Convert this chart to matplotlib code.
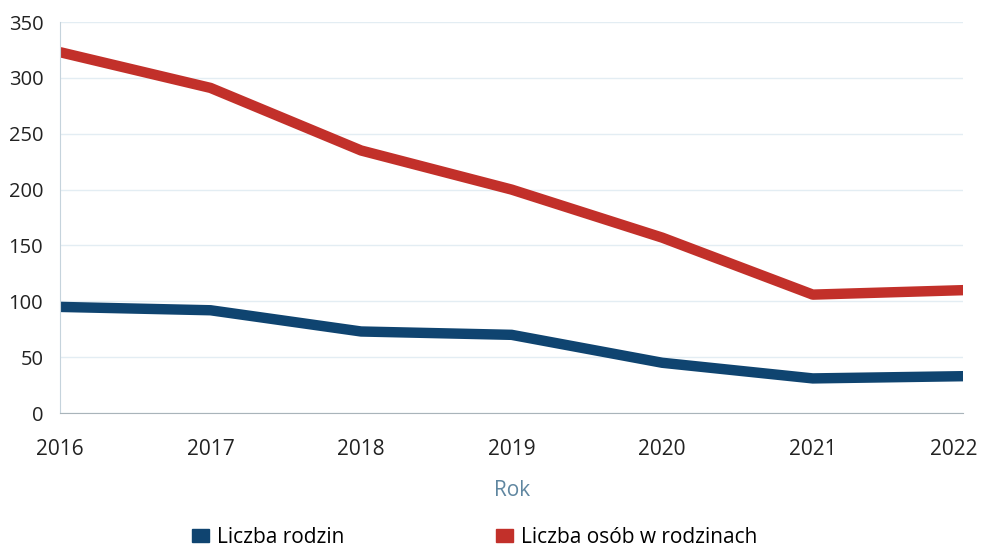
import matplotlib.pyplot as plt
from matplotlib.patches import Patch
from matplotlib.transforms import ScaledTranslation

plt.rcParams['font.family'] = ['Open Sans', 'DejaVu Sans']

# data
years = [2016, 2017, 2018, 2019, 2020, 2021, 2022]
families = [95, 92, 73, 70, 45, 31, 33]
persons = [323, 291, 235, 200, 157, 106, 110]

blue = '#0f4470'
red = '#c2302a'

fig = plt.figure(figsize=(9.83, 5.5), dpi=100)
ax = fig.add_axes([0.061, 0.249, 0.919, 0.711])

ax.plot(years, families, color=blue, lw=7.5, solid_capstyle='butt', solid_joinstyle='round')
ax.plot(years, persons, color=red, lw=7.5, solid_capstyle='butt', solid_joinstyle='round')

ax.set_xlim(2016, 2022)
ax.set_ylim(0, 350)
ax.set_yticks(range(0, 351, 50))
ax.set_xticks(years)
ax.grid(axis='y', color='#e3edf3', lw=1)
ax.set_axisbelow(True)

for s in ['top', 'right']:
    ax.spines[s].set_visible(False)
ax.spines['left'].set_color('#c5d3dc')
ax.spines['bottom'].set_color('#a9b4ba')

ax.tick_params(axis='both', length=0, colors='#222222')
ax.tick_params(axis='y', labelsize=14.5, pad=12)
ax.tick_params(axis='x', labelsize=15, pad=19)

# last year label sits a bit inside the plot edge, as in the original
last = ax.get_xticklabels()[-1]
last.set_transform(last.get_transform() + ScaledTranslation(-7 / 72, 0, fig.dpi_scale_trans))

ax.set_xlabel('Rok', fontsize=15, color='#5f86a0', labelpad=14)

handles = [Patch(color=blue, label='Liczba rodzin'),
           Patch(color=red, label='Liczba osób w rodzinach')]
fig.legend(handles=handles, loc='lower center', bbox_to_anchor=(0.483, -0.03), ncol=2,
           frameon=False, fontsize=15, handlelength=0.8, handleheight=0.55,
           handletextpad=0.4, columnspacing=7.3)

fig.savefig('out.png', dpi=100, facecolor='white')
